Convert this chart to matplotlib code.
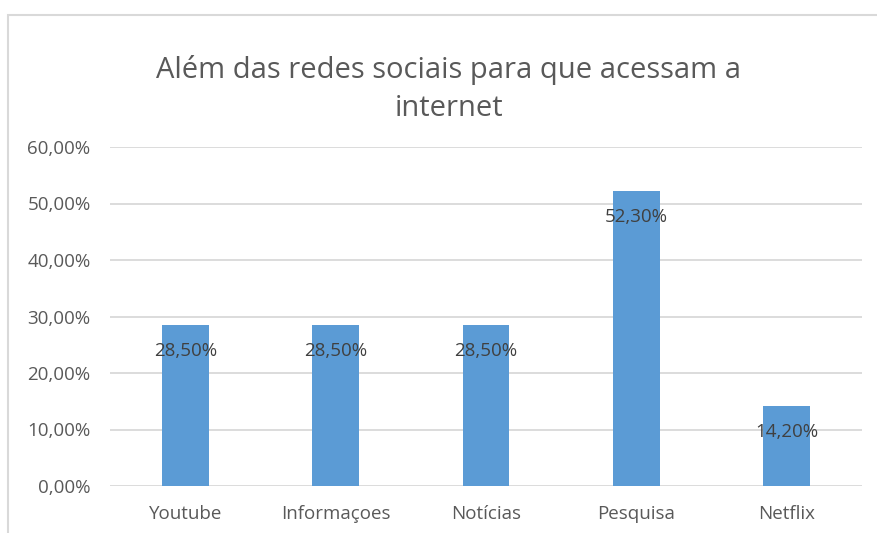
import matplotlib.pyplot as plt
import matplotlib.ticker as ticker
from matplotlib.patches import Rectangle

# ── Data ─────────────────────────────────────────────────────────────────────
categories = ['Youtube', 'Informaçoes', 'Notícias', 'Pesquisa', 'Netflix']
values = [28.5, 28.5, 28.5, 52.3, 14.2]
value_labels = ['28,50%', '28,50%', '28,50%', '52,30%', '14,20%']
y_ticks = [0, 10, 20, 30, 40, 50, 60]

# ── Style ────────────────────────────────────────────────────────────────────
plt.rcParams['font.family'] = ['Open Sans', 'DejaVu Sans']
BAR_COLOR = '#5B9BD5'
TEXT_GRAY = '#595959'
GRID_GRAY = '#D9D9D9'

fig = plt.figure(figsize=(8.78, 5.33), dpi=100)
W, H = 878, 533

# chart frame (light gray border, left and top visible)
fig.patches.append(Rectangle((8 / W, -0.1), 1.2, 1 - 15 / H + 0.1,
                             transform=fig.transFigure, fill=False,
                             edgecolor='#D9D9D9', linewidth=1.5))

ax = fig.add_axes([110 / W, 1 - 486 / H, 752 / W, (486 - 147) / H])
x = range(len(categories))
ax.bar(x, values, width=0.31, color=BAR_COLOR, zorder=3)

for i, (v, lab) in enumerate(zip(values, value_labels)):
    ax.annotate(lab, xy=(i, v), xytext=(0, -19), textcoords='offset points',
                ha='center', va='center', fontsize=13.5, color='#404040', zorder=4)

ax.set_xlim(-0.5, len(categories) - 0.5)
ax.set_ylim(0, 60)
ax.set_yticks(y_ticks)
ax.yaxis.set_major_formatter(ticker.FuncFormatter(lambda v, _: f'{v:.2f}%'.replace('.', ',')))
ax.set_xticks(list(x))
ax.set_xticklabels(categories)
ax.tick_params(axis='both', length=0, labelsize=13.5, colors=TEXT_GRAY)
ax.tick_params(axis='y', pad=14)
ax.tick_params(axis='x', pad=14)
ax.grid(axis='y', color=GRID_GRAY, linewidth=1.3, zorder=0)
for s in ax.spines.values():
    s.set_visible(False)

fig.text(449 / W, 1 - 89 / H, 'Além das redes sociais para que acessam a\ninternet',
         ha='center', va='center', fontsize=21, color=TEXT_GRAY, linespacing=1.38)

fig.savefig('out.png', dpi=100)
